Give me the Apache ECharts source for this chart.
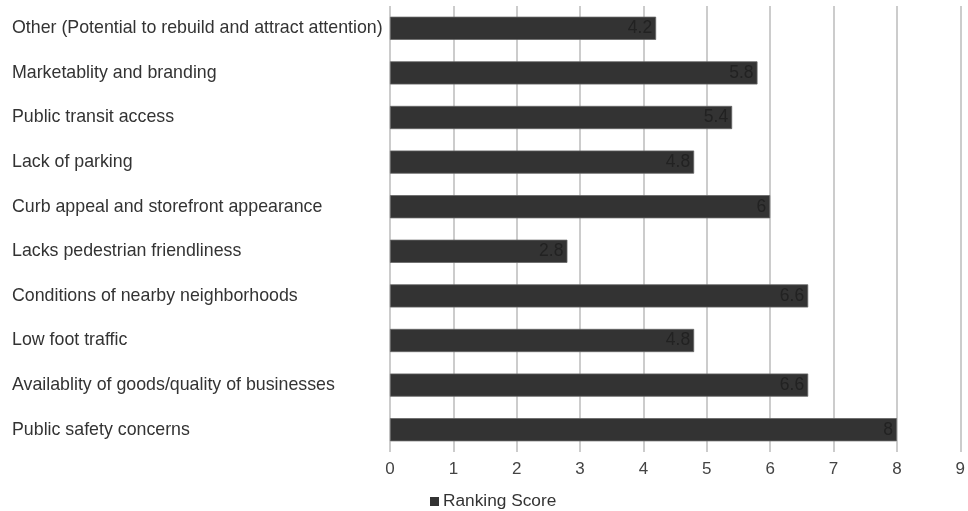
<!DOCTYPE html>
<html>
<head>
<meta charset="utf-8">
<script src="https://cdn.jsdelivr.net/npm/echarts@6/dist/echarts.min.js"></script>
<style>
  html, body { margin: 0; padding: 0; background: #fff; }
  #chart { width: 968px; height: 511px; }
</style>
</head>
<body>
<div id="chart"></div>
<script>
// Categories listed bottom-to-top (category axis starts at the bottom)
const categories = [
  'Public safety concerns',
  'Availablity of goods/quality of businesses',
  'Low foot traffic',
  'Conditions of nearby neighborhoods',
  'Lacks pedestrian friendliness',
  'Curb appeal and storefront appearance',
  'Lack of parking',
  'Public transit access',
  'Marketablity and branding',
  'Other (Potential to rebuild and attract attention)'
];
const rankingScore = [8, 6.6, 4.8, 6.6, 2.8, 6, 4.8, 5.4, 5.8, 4.2];
const seriesName = 'Ranking Score';
const xTicks = { min: 0, max: 9, interval: 1 };

const chart = echarts.init(document.getElementById('chart'), null, { renderer: 'canvas' });
chart.setOption({
  animation: false,
  backgroundColor: '#ffffff',
  textStyle: { fontFamily: 'Liberation Sans, Arial, sans-serif' },
  grid: { left: 390, right: 5, top: 6, bottom: 59, containLabel: false },
  legend: {
    bottom: 1,
    left: 430,
    padding: 0,
    itemWidth: 9,
    itemHeight: 9,
    itemGap: 4,
    icon: 'rect',
    itemStyle: { borderWidth: 0 },
    textStyle: { fontSize: 17.3, color: '#333', padding: [0, 0, 0, -1] },
    data: [seriesName]
  },
  xAxis: {
    type: 'value',
    min: xTicks.min,
    max: xTicks.max,
    interval: xTicks.interval,
    axisLine: { show: false },
    axisTick: { show: false },
    axisLabel: { color: '#444', fontSize: 17, margin: 9 },
    splitLine: { show: true, lineStyle: { color: '#bbbbbb', width: 1.5 } }
  },
  yAxis: {
    type: 'category',
    data: categories,
    axisLine: { show: false },
    axisTick: { show: false },
    axisLabel: {
      color: '#333',
      fontSize: 17.8,
      align: 'left',
      margin: 378
    }
  },
  series: [{
    name: seriesName,
    type: 'bar',
    data: rankingScore,
    barWidth: '52%',
    itemStyle: { color: '#333333', borderColor: '#666666', borderWidth: 0.8 },
    label: {
      show: true,
      position: 'insideRight',
      distance: 4,
      color: '#222222',
      fontSize: 17.5
    }
  }]
});
</script>
</body>
</html>
